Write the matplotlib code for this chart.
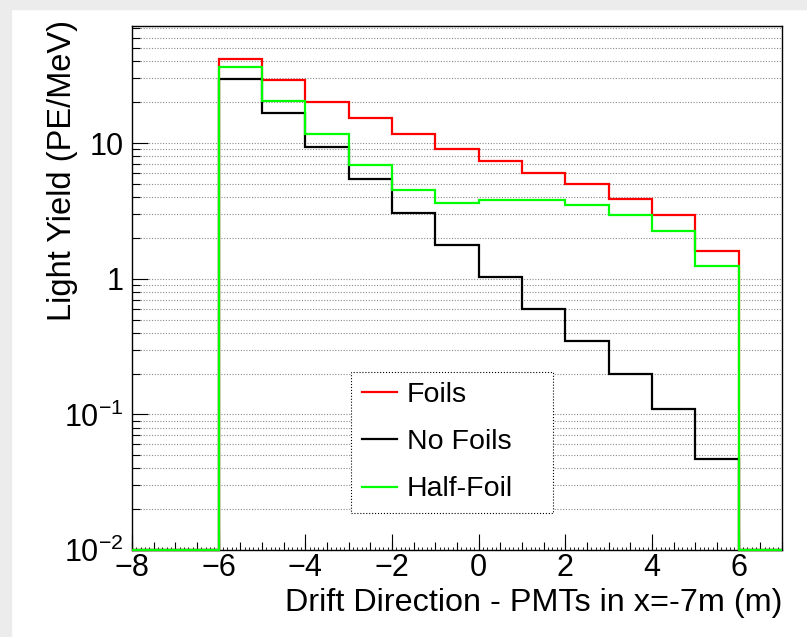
import numpy as np
import matplotlib
matplotlib.use('Agg')
import matplotlib.pyplot as plt
from matplotlib.patches import Rectangle
from matplotlib.ticker import FixedLocator, FixedFormatter, MultipleLocator, NullFormatter

plt.rcParams['font.family'] = ['Liberation Sans', 'DejaVu Sans']
plt.rcParams['mathtext.fontset'] = 'custom'
plt.rcParams['mathtext.rm'] = 'Liberation Sans'
plt.rcParams['mathtext.it'] = 'Liberation Sans'
plt.rcParams['mathtext.bf'] = 'Liberation Sans'

# bin edges (m) and light yield per bin (PE/MeV), zero outside the detector
edges = np.arange(-8, 8, 1)
foils = [0, 0, 42.0, 29.4, 20.2, 15.2, 11.6, 9.1, 7.4, 6.06, 5.0, 3.9, 2.96, 1.61, 0]
no_foils = [0, 0, 29.9, 16.8, 9.4, 5.4, 3.07, 1.78, 1.03, 0.60, 0.35, 0.199, 0.11, 0.047, 0]
half_foil = [0, 0, 36.7, 20.6, 11.6, 6.9, 4.5, 3.64, 3.83, 3.83, 3.52, 2.96, 2.26, 1.25, 0]

labels = ["Foils", "No Foils", "Half-Foil"]
colors = ["#ff0000", "#000000", "#00ff00"]

yticks = [0.01, 0.1, 1, 10]
yticklabels = [r"$10^{-2}$", r"$10^{-1}$", "1", "10"]
xticks = [-8, -6, -4, -2, 0, 2, 4, 6]

ymin, ymax = 0.01, 73

fig = plt.figure(figsize=(8.07, 6.37), dpi=100)
# screenshot border
fig.patches.append(Rectangle((0, 1 - 9 / 637), 1, 9 / 637, transform=fig.transFigure,
                             color='#ececec', zorder=0))
fig.patches.append(Rectangle((0, 0), 11 / 807, 1, transform=fig.transFigure,
                             color='#ececec', zorder=0))

ax = fig.add_axes([132 / 807, 1 - 550 / 637, 650 / 807, 524 / 637])
ax.set_yscale('log')

for vals, lab, col in zip([foils, no_foils, half_foil], labels, colors):
    v = np.maximum(np.array(vals), ymin)
    ax.stairs(v, edges, baseline=None, color=col, lw=1.6, label=lab, zorder=3, clip_on=False)

ax.set_xlim(-8, 7)
ax.set_ylim(ymin, ymax)

ax.yaxis.set_major_locator(FixedLocator(yticks))
ax.yaxis.set_major_formatter(FixedFormatter(yticklabels))
minors = [m * 10.0 ** e for e in range(-2, 2) for m in range(2, 10)]
ax.yaxis.set_minor_locator(FixedLocator(minors))
ax.yaxis.set_minor_formatter(NullFormatter())

ax.xaxis.set_major_locator(FixedLocator(xticks))
ax.xaxis.set_minor_locator(MultipleLocator(0.1))

ax.tick_params(axis='both', which='major', direction='in', length=11.5, width=0.8,
               labelsize=22, top=False, right=False)
ax.tick_params(axis='y', which='minor', direction='in', length=5.8, width=0.8,
               right=False)
ax.tick_params(axis='x', which='minor', direction='in', length=2.5, width=0.6, top=False)
ax.tick_params(axis='x', which='major', pad=2)
ax.tick_params(axis='y', which='major', pad=6)

# medium ticks every 0.5
sec = ax.secondary_xaxis('bottom')
sec.set_xticks(np.arange(-8, 7.01, 0.5))
sec.tick_params(direction='in', length=5.8, width=0.8, labelbottom=False)
sec.spines['bottom'].set_visible(False)

ax.grid(True, axis='y', which='both', linestyle=(0, (1, 1.5)), color='#8a8a8a', lw=0.8)

for s in ax.spines.values():
    s.set_linewidth(1.0)

ax.set_xlabel("Drift Direction - PMTs in x=-7m (m)", fontsize=23.3, loc='right', labelpad=4)
ax.set_ylabel("Light Yield (PE/MeV)", fontsize=23.5, loc='top')
ax.yaxis.set_label_coords(-0.083, 1.0115)

leg = ax.legend(loc='lower left', bbox_to_anchor=(0.337, 0.0706, 0.311, 0.269), mode='expand',
                borderaxespad=0, fontsize=20.5, handlelength=1.26, handletextpad=0.32,
                labelspacing=0.74, borderpad=0.37, fancybox=False, framealpha=1,
                edgecolor='black')
leg.get_frame().set_linestyle(':')
leg.get_frame().set_linewidth(0.8)
leg.set_zorder(5)

fig.savefig('out.png', dpi=100)
